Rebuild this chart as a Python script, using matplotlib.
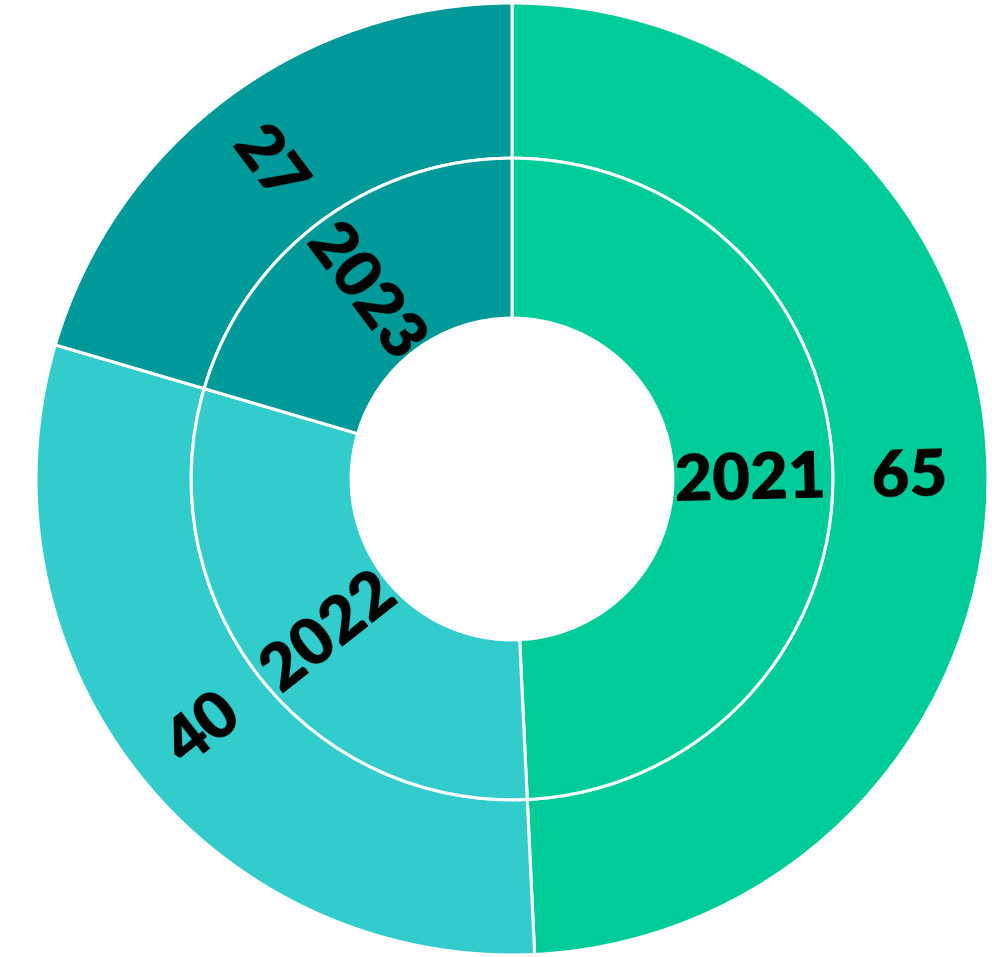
import numpy as np
import matplotlib.pyplot as plt

# Dados
years = ['2021', '2022', '2023']
values = [65, 40, 27]
colors = ['#00CC99', '#33CCCC', '#009999']

plt.rcParams['font.family'] = ['Lato', 'DejaVu Sans']

fig = plt.figure(figsize=(9.92, 9.57), dpi=100)
ax = fig.add_axes([0, 0, 1, 1])

wedge_kw = dict(edgecolor='white', linewidth=2.2)

# Anel externo (valores) e anel interno (anos)
outer, _ = ax.pie(values, radius=1.0, colors=colors, startangle=90,
                  counterclock=False, wedgeprops=dict(width=0.326, **wedge_kw))
inner, _ = ax.pie(values, radius=0.674, colors=colors, startangle=90,
                  counterclock=False, wedgeprops=dict(width=0.336, **wedge_kw))


def label(r, ang, txt):
    rad = np.deg2rad(ang)
    rot = ang - 180 if np.cos(rad) < 0 else ang
    # pequeno deslocamento para centrar os algarismos (ignorar descendente)
    d = 0.016
    dx, dy = d * np.sin(np.deg2rad(rot)), -d * np.cos(np.deg2rad(rot))
    ax.text(r * np.cos(rad) + dx, r * np.sin(rad) + dy, txt, rotation=rot,
            ha='center', va='center', rotation_mode='anchor',
            fontsize=47, fontweight='heavy', color='black')


# Rótulos radiais
for w, yr, v in zip(inner, years, values):
    ang = (w.theta1 + w.theta2) / 2
    label(0.50, ang, yr)
    label(0.835, ang, str(v))

ax.set_aspect('auto')
ax.set_xlim(-512 / 476, (992 - 512) / 476)
ax.set_ylim(-(957 - 479) / 476, 479 / 476)
ax.axis('off')

fig.savefig('out.png', dpi=100)
